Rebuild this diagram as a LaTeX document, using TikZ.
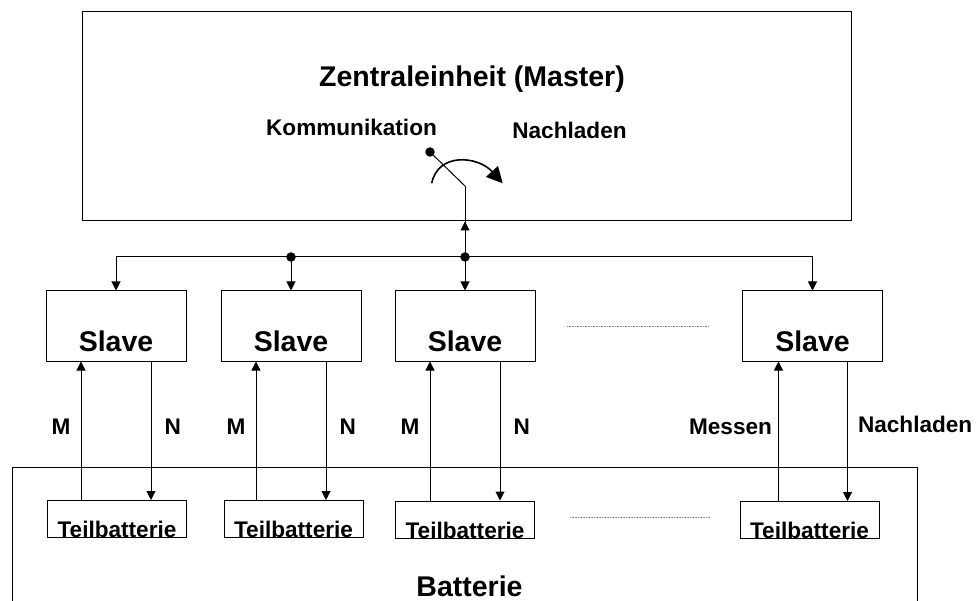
\documentclass[tikz,border=0pt]{standalone}
\usepackage{fontspec}
\setmainfont{Liberation Sans}
\usetikzlibrary{arrows.meta,calc}
\begin{document}
\begin{tikzpicture}[
  x=1pt, y=-1pt, line width=1pt,
  bigtxt/.style={font=\fontsize{28.5}{32}\selectfont\bfseries},
  smalltxt/.style={font=\fontsize{22.6}{26}\selectfont\bfseries, inner sep=0pt},
  slavebox/.style={draw, bigtxt, inner sep=0pt, minimum width=140pt, text height=60.7pt, text depth=9.3pt},
  teilbox/.style={draw, smalltxt, minimum width=139pt, text height=37pt, text depth=0pt},
  arr/.style={-{Triangle[width=9pt,length=9pt]}},
  jdot/.style={circle, fill, inner sep=0pt, minimum size=9.5pt},
  dotline/.style={densely dotted, line width=0.6pt, gray}
]
  \useasboundingbox (0,0) rectangle (979,601);

  % === MASTER ===
  \node[draw, inner sep=0pt, minimum width=769pt, minimum height=209pt] (master) at (466.5,116.5) {};
  \node[bigtxt, anchor=base] (title) at (472,87) {Zentraleinheit (Master)};
  \node[smalltxt, anchor=base] (komm) at (351.5,136) {Kommunikation};
  \node[smalltxt, anchor=base] (nach) at (569.5,139) {Nachladen};

  % switch
  \node[jdot] (sw) at (430,152) {};
  \coordinate (pivot) at (465,186);
  \draw (sw.center) -- (pivot);
  \draw[line width=1.6pt, -{Triangle[width=16pt,length=16pt]}] (431.7,183.3) .. controls (438,152) and (478,156) .. (502.7,183.3);

  % === SLAVES ===
  \node[slavebox] (s1) at (116,326) {Slave};
  \node[slavebox] (s2) at (291,326) {Slave};
  \node[slavebox] (s3) at (465,326) {Slave};
  \node[slavebox] (s4) at (812.5,326) {Slave};
  \draw[dotline] (567,326) -- (708,326);

  % bus
  \coordinate (bus) at (0,257);
  \node[jdot] (j2) at (s2.north |- bus) {};
  \node[jdot] (j3) at (s3.north |- bus) {};
  \draw (pivot) -- (j3.center);
  \draw[arr] (j3.center) -- (j3 |- master.south);
  \draw[arr] (j3.center) -- (s3.north);
  \draw[arr] (j2.center) -- (s2.north);
  \draw[arr] (j2.center) -| (s1.north);
  \draw (j2.center) -- (j3.center);
  \draw[arr] (j3.center) -| (s4.north);

  % === BATTERIE ===
  \draw (12.5,601) |- (917.5,467) -- (917.5,601);
  \node[bigtxt, anchor=base] (batt) at (469.5,596) {Batterie};
  \node[teilbox] (t1) at (117,519) {Teilbatterie};
  \node[teilbox] (t2) at (293.5,519) {Teilbatterie};
  \node[teilbox] (t3) at (465,519.5) {Teilbatterie};
  \node[teilbox] (t4) at (809.5,520) {Teilbatterie};
  \draw[dotline] (570,517.5) -- (710,517.5);

  % Messen / Nachladen
  \foreach \i in {1,2,3} {
    \coordinate (m\i) at ($(s\i.south)+(-35,0)$);
    \coordinate (n\i) at ($(s\i.south)+(35,0)$);
    \draw[arr] (m\i |- t\i.north) -- node[smalltxt, pos=0.53, left=10pt] {M} (m\i);
    \draw[arr] (n\i) -- node[smalltxt, pos=0.47, right=13pt] {N} (n\i |- t\i.north);
  }
  \coordinate (m4) at ($(s4.south)+(-34,0)$);
  \coordinate (n4) at ($(s4.south)+(35,0)$);
  \draw[arr] (m4 |- t4.north) -- node[smalltxt, pos=0.53, left=6pt] {Messen} (m4);
  \draw[arr] (n4) -- node[smalltxt, pos=0.45, right=10pt] {Nachladen} (n4 |- t4.north);
\end{tikzpicture}
\end{document}
